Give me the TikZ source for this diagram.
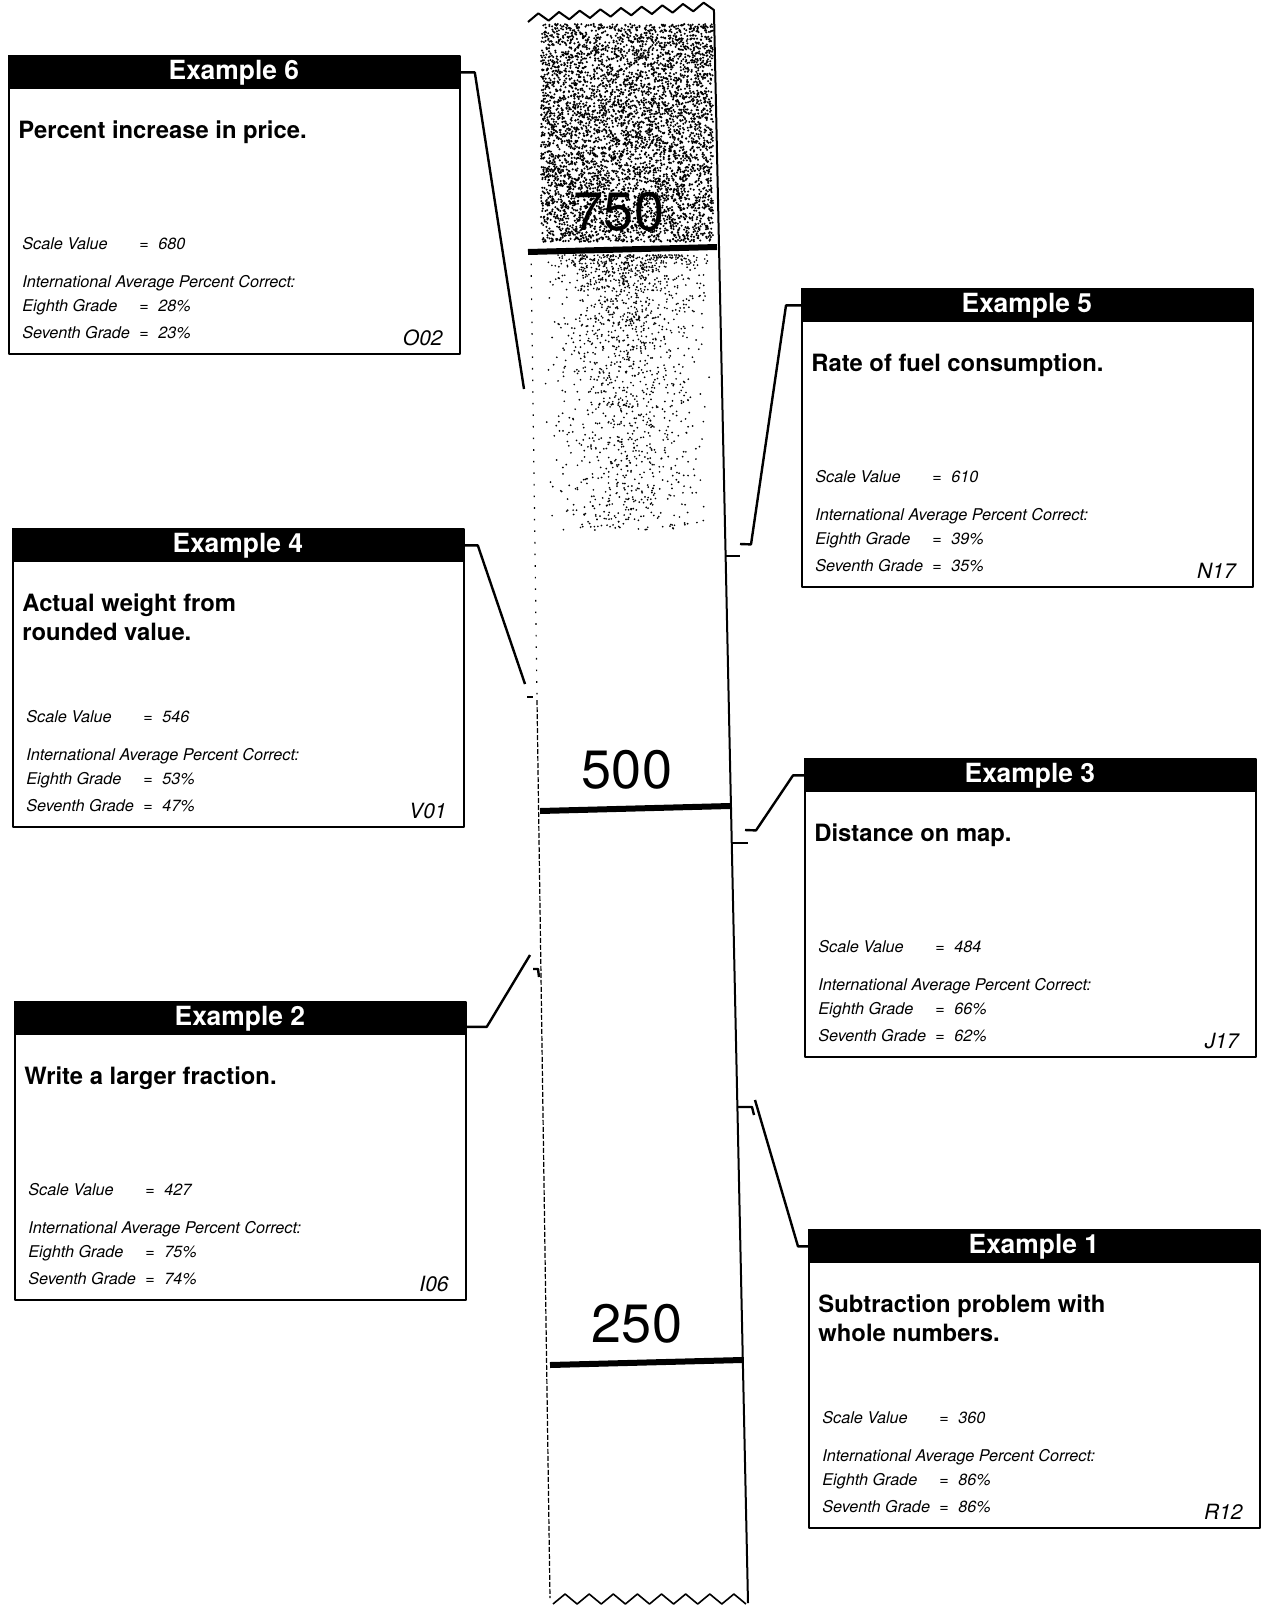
\documentclass[tikz,border=0pt]{standalone}
\usepackage{fontspec}
\setmainfont{TeX Gyre Heros}
\begin{document}
\begin{tikzpicture}[x=0.5pt, y=-0.5pt, line join=round,
	exbox/.style={draw, line width=1pt, anchor=north west, minimum width=225.5pt, minimum height=149pt, inner sep=0pt},
	exhead/.style={fill=black, text=white, anchor=north west, minimum width=225.5pt, minimum height=17pt, inner sep=0pt, font=\fontsize{13.2}{15}\selectfont\bfseries},
	extitle/.style={anchor=base west, inner sep=0pt, font=\fontsize{11.9}{14}\selectfont\bfseries},
	exinfo/.style={anchor=base west, inner sep=0pt, font=\fontsize{8.1}{9}\selectfont\itshape},
	excode/.style={anchor=base east, inner sep=0pt, font=\fontsize{10.5}{12}\selectfont\itshape},
	scalenum/.style={inner sep=0pt, font=\fontsize{27}{30}\selectfont},
	conn/.style={line width=1.2pt},
	major/.style={line width=3pt}]
	\useasboundingbox (0,0) rectangle (1264,1606);

	% stipple on the upper part of the scale
	\pgfmathsetseed{42}
	\foreach \i in {1,...,5000}{
		\pgfmathsetmacro\px{541+172*rnd}
		\pgfmathsetmacro\py{24+218*rnd}
		\fill (\px,\py) circle (1.15);
	}
	\foreach \i in {1,...,1600}{
		\pgfmathsetmacro\py{255+275*pow(rnd,1.8)}
		\pgfmathsetmacro\px{542+168*(rnd+rnd)/2}
		\fill (\px,\py) circle (0.95);
	}

	% the scale strip
	\draw[line width=1pt] (528,22) \foreach \k in {1,...,18}{ -- ({528+\k*10.33},{22-\k*0.667-8*mod(\k,2)}) } -- (748,1603);
	\draw[line width=0.8pt] (553,1604) \foreach \k in {1,...,16}{ -- ({553+\k*12.06},{1604-10*mod(\k,2)}) };
	\draw[line width=0.6pt, dash pattern=on 0.8pt off 5pt] (531,252) -- (537,700);
	\draw[line width=0.6pt, dash pattern=on 2.5pt off 1pt] (537,700) -- (550,1598);

	\draw[major] (528,252) -- (717,247);
	\draw[major] (540,811) -- (730,806);
	\draw[major] (550,1365) -- (742,1360);
	\node[scalenum] (l750) at (619,212) {750};
	\node[scalenum] (l500) at (627,770) {500};
	\node[scalenum] (l250) at (637,1324) {250};

	% example boxes
	\foreach \n/\bx/\by/\ta/\tb/\sv/\eg/\sg/\cd in {
		6/8/55/{Percent increase in price.}/{}/680/28/23/O02,
		4/12/528/{Actual weight from}/{rounded value.}/546/53/47/V01,
		2/14/1001/{Write a larger fraction.}/{}/427/75/74/I06,
		5/801/288/{Rate of fuel consumption.}/{}/610/39/35/N17,
		3/804/758/{Distance on map.}/{}/484/66/62/J17,
		1/808/1229/{Subtraction problem with}/{whole numbers.}/360/86/86/R12}{
		\node[exbox] (ex\n) at (\bx,\by) {};
		\node[exhead] (ex\n-h) at (\bx,\by) {Example \n};
		\path (ex\n.north west) ++(10,83) node[extitle] (ex\n-t1) {\ta} ++(0,29) node[extitle] (ex\n-t2) {\tb};
		\path (ex\n.north west) ++(14,194) node[exinfo] (ex\n-sv) {Scale Value} ++(117,0) node[exinfo] (ex\n-e1) {=} ++(19,0) node[exinfo] (ex\n-v1) {\sv};
		\path (ex\n.north west) ++(14,232) node[exinfo] (ex\n-ia) {International Average Percent Correct:};
		\path (ex\n.north west) ++(14,256) node[exinfo] (ex\n-eg) {Eighth Grade} ++(117,0) node[exinfo] (ex\n-e2) {=} ++(19,0) node[exinfo] (ex\n-v2) {\eg\%};
		\path (ex\n.north west) ++(14,283) node[exinfo] (ex\n-sg) {Seventh Grade} ++(117,0) node[exinfo] (ex\n-e3) {=} ++(19,0) node[exinfo] (ex\n-v3) {\sg\%};
		\path (ex\n.north east) ++(-18,290) node[excode] (ex\n-c) {\cd};
	}

	% points on the scale
	\coordinate (s680) at (524,389);
	\coordinate (s546) at (525,684);
	\coordinate (t546) at (527,697);
	\coordinate (s427) at (530,955);
	\coordinate (t427) at (533,969);
	\coordinate (s610) at (740,544);
	\coordinate (t610) at (726,556);
	\coordinate (s484) at (745,830);
	\coordinate (t484) at (732,843);
	\coordinate (s360) at (755,1100);
	\coordinate (t360) at (737,1107);

	% connectors
	\draw[conn] (ex6-h.east) -- ++(15,0) -- (s680);
	\draw[conn] (ex4-h.east) -- ++(14,0) -- (s546);
	\draw[conn] (t546) -- ++(6,0);
	\draw[conn] (ex2-h.south east) ++(0,-9) -- ++(21,0) -- (s427);
	\draw[conn] (t427) -- ++(5,0) -- ++(1,8);
	\draw[conn] (ex5-h.west) -- ++(-15,0) -- ++(-35,239) -- (s610);
	\draw[conn] (t610) -- ++(14,0);
	\draw[conn] (ex3-h.west) -- ++(-11,0) -- ++(-37,55) -- (s484);
	\draw[conn] (t484) -- ++(16,0);
	\draw[conn] (ex1-h.west) -- ++(-10,0) -- (s360);
	\draw[conn] (t360) -- ++(15,0) -- ++(2,8);
\end{tikzpicture}
\end{document}
